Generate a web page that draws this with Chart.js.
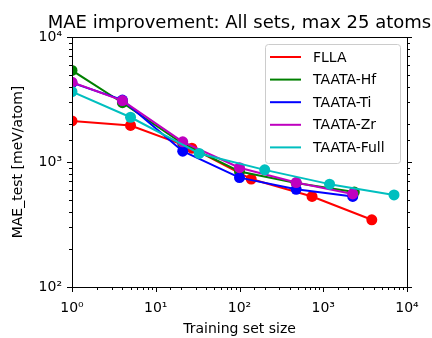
<!DOCTYPE html>
<html lang="en">
  <head>
    <meta charset="UTF-8" />
    <title>MAE improvement</title>
    <script src="https://cdn.jsdelivr.net/npm/chart.js@4.4.1/dist/chart.umd.min.js"></script>
    <style>
      body { margin: 0; background: #fff; }
    </style>
  </head>
  <body>
    <canvas id="myChart" width="432" height="338"></canvas>
    <script>
      const chartTitle = "MAE improvement: All sets, max 25 atoms"
      const seriesNames = ["FLLA", "TAATA-Hf", "TAATA-Ti", "TAATA-Zr", "TAATA-Full"]
      const seriesColors = ["#ff0000", "#008000", "#0000ff", "#bf00bf", "#00bfbf"]

      const fllaX = [1, 5, 27, 138, 735, 3800]
      const fllaY = [2130, 1960, 1290, 730, 530, 345]
      const hfX = [1, 4, 21, 100, 475, 2350]
      const hfY = [5400, 2980, 1400, 840, 680, 575]
      const tiX = [1, 4, 21, 100, 475, 2250]
      const tiY = [4300, 3130, 1220, 750, 605, 530]
      const zrX = [1, 4, 21, 100, 475, 2250]
      const zrY = [4350, 3100, 1450, 900, 685, 555]
      const fullX = [1, 5, 33, 200, 1190, 7000]
      const fullY = [3650, 2280, 1170, 865, 665, 545]

      const xRange = [1, 10000]
      const yRange = [100, 10000]
      const superscripts = ["⁰", "¹", "²", "³", "⁴", "⁵"]

      const allX = [fllaX, hfX, tiX, zrX, fullX]
      const allY = [fllaY, hfY, tiY, zrY, fullY]
      const font = "DejaVu Sans"

      function isDecade(value) {
        const e = Math.log10(value)
        return Math.abs(e - Math.round(e)) < 1e-9
      }

      function decadeLabel(value) {
        if (isDecade(value)) return "10" + superscripts[Math.round(Math.log10(value))]
        return ""
      }

      // title centred over the plot, allowed to run past its right edge
      const plotTitle = {
        id: "plotTitle",
        afterDraw(chart) {
          const ctx = chart.ctx
          const a = chart.chartArea
          ctx.save()
          ctx.font = "18px '" + font + "'"
          ctx.fillStyle = "#000"
          ctx.textAlign = "center"
          ctx.textBaseline = "alphabetic"
          ctx.fillText(chartTitle, (a.left + a.right) / 2, a.top - 9)
          ctx.restore()
        },
      }

      // axes box + matplotlib style tick marks (major long, minor short)
      const tickMarks = {
        id: "tickMarks",
        afterDraw(chart) {
          const ctx = chart.ctx
          const a = chart.chartArea
          const xs = chart.scales.x
          const ys = chart.scales.y
          ctx.save()
          ctx.strokeStyle = "#000"
          ctx.lineWidth = 1
          ctx.strokeRect(Math.round(a.left) + 0.5, Math.round(a.top) + 0.5,
            Math.round(a.right - a.left), Math.round(a.bottom - a.top))
          ctx.beginPath()
          xs.ticks.forEach((t) => {
            const px = Math.round(xs.getPixelForValue(t.value)) + 0.5
            const len = isDecade(t.value) ? 5 : 3
            ctx.moveTo(px, a.bottom)
            ctx.lineTo(px, a.bottom + len)
          })
          ys.ticks.forEach((t) => {
            const py = Math.round(ys.getPixelForValue(t.value)) + 0.5
            const len = isDecade(t.value) ? 5 : 3
            ctx.moveTo(a.left, py)
            ctx.lineTo(a.left - len, py)
            ctx.moveTo(a.right, py)
            ctx.lineTo(a.right + len, py)
          })
          ctx.stroke()
          ctx.restore()
        },
      }

      // legend box in the upper right corner of the plot
      const innerLegend = {
        id: "innerLegend",
        afterDraw(chart) {
          const ctx = chart.ctx
          const a = chart.chartArea
          const w = 135, h = 119
          const x0 = a.right - 7 - w
          const y0 = a.top + 7
          ctx.save()
          ctx.beginPath()
          ctx.roundRect(x0 + 0.5, y0 + 0.5, w, h, 3)
          ctx.fillStyle = "rgba(255,255,255,0.8)"
          ctx.fill()
          ctx.strokeStyle = "#cccccc"
          ctx.lineWidth = 1
          ctx.stroke()
          ctx.font = "14px '" + font + "'"
          ctx.textBaseline = "middle"
          ctx.textAlign = "left"
          chart.data.datasets.forEach((ds, i) => {
            const cy = y0 + 13 + i * 22.6
            ctx.strokeStyle = ds.borderColor
            ctx.lineWidth = 2
            ctx.beginPath()
            ctx.moveTo(x0 + 5, cy)
            ctx.lineTo(x0 + 36, cy)
            ctx.stroke()
            ctx.fillStyle = "#000"
            ctx.fillText(ds.label, x0 + 48, cy + 1)
          })
          ctx.restore()
        },
      }

      const datasets = seriesNames.map((name, i) => ({
        label: name,
        data: allX[i].map((x, j) => ({ x: x, y: allY[i][j] })),
        borderColor: seriesColors[i],
        backgroundColor: seriesColors[i],
        pointBackgroundColor: seriesColors[i],
        pointBorderWidth: 0,
        pointRadius: 5.5,
        pointHoverRadius: 5.5,
        borderWidth: 2,
        borderJoinStyle: "round",
        tension: 0,
        clip: 0,
        order: seriesNames.length - i,
      }))

      const ctx = document.getElementById("myChart").getContext("2d")
      const myChart = new Chart(ctx, {
        type: "line",
        data: { datasets: datasets },
        options: {
          responsive: false,
          animation: false,
          layout: { padding: { top: 37, right: 25 } },
          plugins: {
            legend: { display: false },
            tooltip: { enabled: false },
            title: { display: false },
          },
          scales: {
            x: {
              type: "logarithmic",
              min: xRange[0],
              max: xRange[1],
              grid: { display: false, drawTicks: true, tickLength: 5 },
              border: { display: false },
              ticks: {
                autoSkip: false,
                maxRotation: 0,
                padding: 8,
                color: "#000",
                font: { family: font, size: 14 },
                callback: (v) => decadeLabel(v),
              },
              title: {
                display: true,
                text: "Training set size",
                color: "#000",
                font: { family: font, size: 14 },
                padding: { top: 2, bottom: 0 },
              },
              afterFit: (scale) => { scale.height = 51 },
            },
            y: {
              type: "logarithmic",
              min: yRange[0],
              max: yRange[1],
              grid: { display: false, drawTicks: true, tickLength: 5 },
              border: { display: false },
              ticks: {
                autoSkip: false,
                padding: 5,
                color: "#000",
                font: { family: font, size: 14 },
                callback: (v) => decadeLabel(v),
              },
              title: {
                display: true,
                text: "MAE_test [meV/atom]",
                color: "#000",
                font: { family: font, size: 14 },
                padding: { top: 10, bottom: 0 },
              },
              afterFit: (scale) => { scale.width = 72 },
            },
          },
        },
        plugins: [tickMarks, innerLegend, plotTitle],
      })
    </script>
  </body>
</html>
